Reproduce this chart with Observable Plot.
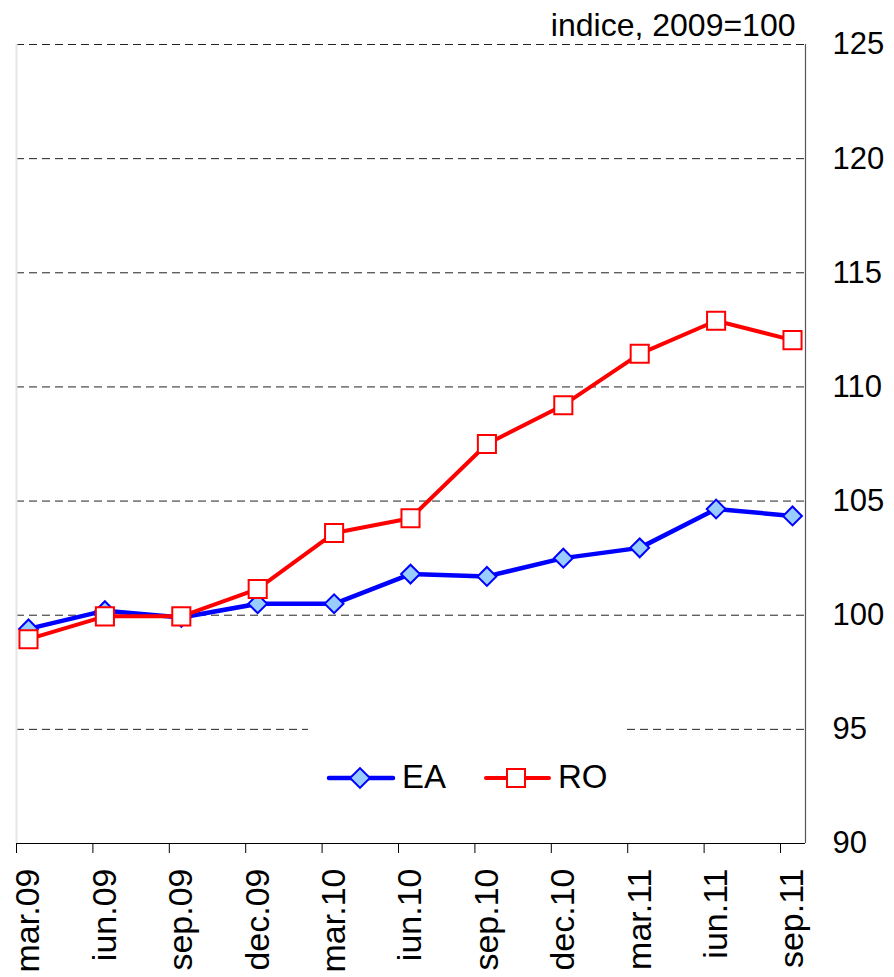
<!DOCTYPE html>
<html>
<head>
<meta charset="utf-8">
<script src="https://cdn.jsdelivr.net/npm/d3@7"></script>
<script src="https://cdn.jsdelivr.net/npm/@observablehq/plot@0.6"></script>
<style>
  html, body { margin: 0; padding: 0; background: #fff; }
  #wrap { position: relative; width: 894px; height: 977px; overflow: hidden; }
  #legend { position: absolute; left: 308px; top: 726px; width: 316px; height: 100px; background: #fff; }
  #legend svg { font-family: "Liberation Sans", Arial, sans-serif; }
</style>
</head>
<body>
<div id="wrap"></div>
<script>
// ---- data ----
const months = ["mar.09","iun.09","sep.09","dec.09","mar.10","iun.10","sep.10","dec.10","mar.11","iun.11","sep.11"];
const eaValues = [99.4, 100.2, 99.9, 100.5, 100.5, 101.8, 101.7, 102.5, 102.95, 104.65, 104.35];
const roValues = [98.95, 99.95, 99.95, 101.15, 103.6, 104.25, 107.5, 109.2, 111.45, 112.9, 112.05];
const yTicks = [90, 95, 100, 105, 110, 115, 120, 125];
const gridValues = [95, 100, 105, 110, 115, 120, 125];
const seriesNames = ["EA", "RO"];
const unitLabel = "indice, 2009=100";

const rows = months.map((m, i) => ({i, m, ea: eaValues[i], ro: roValues[i]}));
const idx = months.map((_, i) => i);
const xLo = -0.157, xHi = 10.17;

const font = '"Liberation Sans", Arial, sans-serif';

const chart = Plot.plot({
  width: 894,
  height: 977,
  marginLeft: 16,
  marginRight: 89,
  marginTop: 44,
  marginBottom: 134,
  style: {fontFamily: font, background: "#fff", overflow: "visible"},
  x: {type: "linear", domain: [xLo, xHi], label: null},
  y: {domain: [90, 125], label: null},
  marks: [
    Plot.ruleY(gridValues, {stroke: "#222", strokeWidth: 1, strokeDasharray: "8,5"}),
    Plot.ruleX([xLo], {stroke: "#e6e6e6", strokeWidth: 2}),
    Plot.ruleX([xHi], {stroke: "#555", strokeWidth: 1.2}),
    Plot.ruleY([90], {stroke: "#000", strokeWidth: 1.2}),
    Plot.axisX({ticks: idx.map(i => i + xLo), tickFormat: () => "", tickSize: 10, stroke: "#000", label: null}),
    Plot.axisX({ticks: idx, tickFormat: i => months[i], tickSize: 0, tickPadding: 25, tickRotate: -90, fontSize: 34, fill: "#000", label: null}),
    Plot.axisY({anchor: "right", ticks: yTicks, tickSize: 0, tickPadding: 27, fontSize: 31, fill: "#000", textAnchor: "start", label: null}),
    Plot.text([unitLabel], {frameAnchor: "top-right", dx: -10, dy: -9, lineAnchor: "bottom", fontSize: 32, fill: "#000"}),
    Plot.line(rows, {x: "i", y: "ea", stroke: "#0000ff", strokeWidth: 4.5}),
    Plot.dot(rows, {x: "i", y: "ea", symbol: "square", rotate: 45, r: 7.5, fill: "#99ccff", stroke: "#0000ff", strokeWidth: 2}),
    Plot.line(rows, {x: "i", y: "ro", stroke: "#ff0000", strokeWidth: 4}),
    Plot.dot(rows, {x: "i", y: "ro", symbol: "square", r: 10.2, fill: "#ffffff", stroke: "#ff0000", strokeWidth: 2})
  ]
});
document.getElementById("wrap").appendChild(chart);

// ---- legend ----
const legend = document.createElement("div");
legend.id = "legend";
legend.innerHTML = `
<svg width="316" height="100">
  <line x1="21" x2="85" y1="52" y2="52" stroke="#0000ff" stroke-width="4.5" stroke-linecap="round"/>
  <rect x="45" y="45" width="14" height="14" transform="rotate(45 52 52)" fill="#99ccff" stroke="#0000ff" stroke-width="2"/>
  <text x="94" y="62" font-size="33" fill="#000">${seriesNames[0]}</text>
  <line x1="178" x2="241" y1="52" y2="52" stroke="#ff0000" stroke-width="4" stroke-linecap="round"/>
  <rect x="199" y="43" width="18" height="18" fill="#fff" stroke="#ff0000" stroke-width="2"/>
  <text x="250" y="62" font-size="33" fill="#000">${seriesNames[1]}</text>
</svg>`;
document.getElementById("wrap").appendChild(legend);
</script>
</body>
</html>
